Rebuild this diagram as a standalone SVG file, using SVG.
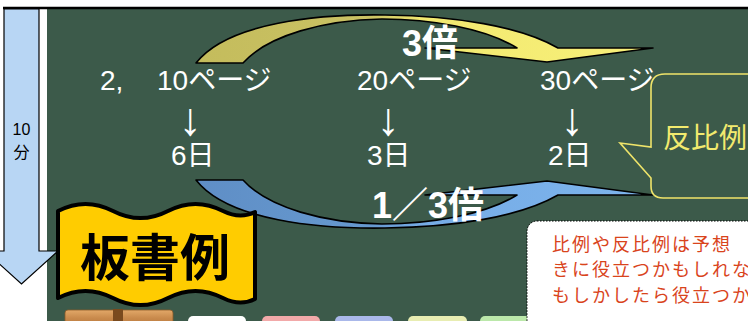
<svg xmlns="http://www.w3.org/2000/svg" width="748" height="321" viewBox="0 0 748 321">
<defs>
<linearGradient id="gy" gradientUnits="userSpaceOnUse" x1="196" y1="0" x2="653" y2="0">
<stop offset="0" stop-color="#C4BC5C"/><stop offset="0.38" stop-color="#CAC264"/><stop offset="0.5" stop-color="#F2E970"/><stop offset="1" stop-color="#F8F07A"/>
</linearGradient>
<linearGradient id="gb" gradientUnits="userSpaceOnUse" x1="196" y1="0" x2="653" y2="0">
<stop offset="0" stop-color="#5F8EC6"/><stop offset="0.38" stop-color="#6699CF"/><stop offset="0.5" stop-color="#76ACE6"/><stop offset="1" stop-color="#7DB4EC"/>
</linearGradient>
<linearGradient id="gw" x1="0" y1="0" x2="0" y2="1">
<stop offset="0" stop-color="#E2A868"/><stop offset="0.5" stop-color="#C98A4C"/><stop offset="1" stop-color="#B8783E"/>
</linearGradient>
<path id="carrow" d="M196,63 C228,22 320,14 385,15 C455,16 520,26 558,48 L653,48 L547,62 L425,48 L517,48 C485,28 430,19 382,19 C325,20 268,35 243,63 Z"/>
</defs>
<style>
.t{font-family:"Liberation Sans","Noto Sans CJK JP",sans-serif;fill:#FFFFFF;font-size:28px}
.d{font-family:"Liberation Sans","Noto Sans CJK JP",sans-serif;fill:#FFFFFF;font-size:46px}
.b{font-family:"Liberation Sans","Noto Sans CJK JP",sans-serif;fill:#FFFFFF;font-size:36px;font-weight:bold}
.r{font-family:"Noto Sans CJK JP",sans-serif;fill:#D9441C;font-size:18px;letter-spacing:2px}
.ar{stroke:#000;stroke-width:1.6;stroke-linejoin:round}
</style>
<rect width="748" height="321" fill="#FFFFFF"/>
<g id="board">
<rect x="47" y="9" width="701" height="312" fill="#3C5A4A"/>
<line x1="3" y1="8" x2="748" y2="8" stroke="#000" stroke-width="2.5"/>
</g>
<g id="time-arrow">
<polygon points="4,9 39,9 39,251 58,251 21.5,284 -15,251 4,251" fill="#B8D6F4" stroke="#000" stroke-width="1.2"/>
<text x="21.5" y="135" text-anchor="middle" font-family="Liberation Sans,Noto Sans CJK JP,sans-serif" font-size="16" fill="#000">10</text>
<text x="21.5" y="158" text-anchor="middle" font-family="Noto Sans CJK JP,sans-serif" font-size="16" fill="#000">分</text>
</g>
<g id="connectors">
<use href="#carrow" fill="url(#gy)" class="ar"/>
<use href="#carrow" fill="url(#gb)" class="ar" transform="matrix(1,0,0,-1,0,243)"/>
</g>
<g id="labels">
<text class="b" x="402" y="56">3倍</text>
<text class="b" x="372" y="218">1／3倍</text>
</g>
<g id="col1">
<text class="t" y="90"><tspan x="100">2,</tspan><tspan x="157">10ページ</tspan></text>
<text class="d" x="190" y="135" text-anchor="middle">↓</text>
<text class="t" x="171" y="165">6日</text>
</g>
<g id="col2">
<text class="t" x="357" y="90">20ページ</text>
<text class="d" x="388" y="135" text-anchor="middle">↓</text>
<text class="t" x="367" y="165">3日</text>
</g>
<g id="col3">
<text class="t" x="540" y="90">30ページ</text>
<text class="d" x="572" y="135" text-anchor="middle">↓</text>
<text class="t" x="548" y="165">2日</text>
</g>
<g id="bubble">
<path d="M760,74 H665 Q651,74 651,88 V147 L620,143 L651,178 V186 Q651,198 663,198 H760" fill="none" stroke="#EFE46A" stroke-width="1.6"/>
<text x="663" y="148" font-family="Noto Sans CJK JP,sans-serif" font-size="28" fill="#F2EA6E">反比例</text>
</g>
<g id="banner">
<path d="M58,211 C76,201.7 95,201.7 113,211 C131,220.3 150,220.3 168,211 C186,201.7 205,201.7 223,211 C235,217 245,217 255,212 L255,299 C245,304 235,304 223,298 C205,288.7 186,288.7 168,298 C150,307.3 131,307.3 113,298 C95,288.7 76,288.7 58,298 Z" fill="#FFCC00" stroke="#000" stroke-width="4" stroke-linejoin="round"/>
<text x="155" y="276" text-anchor="middle" font-family="Noto Sans CJK JP,sans-serif" font-size="50" font-weight="bold" fill="#000">板書例</text>
</g>
<g id="tray">
<rect x="65" y="310" width="108" height="16" rx="3" fill="url(#gw)" stroke="#8A5A2A" stroke-width="0.8"/>
<rect x="113" y="309" width="10" height="14" fill="#7A4A1E"/>
</g>
<g id="tabs">
<rect x="188" y="316" width="58" height="12" rx="5" fill="#FFFFFF"/>
<rect x="262" y="316" width="58" height="12" rx="5" fill="#F2A9A9"/>
<rect x="335" y="316" width="58" height="12" rx="5" fill="#AAB8EA"/>
<rect x="408" y="316" width="59" height="12" rx="5" fill="#E8EDB2"/>
<rect x="480" y="316" width="58" height="12" rx="5" fill="#BBE8AA"/>
</g>
<g id="note">
<rect x="527" y="221" width="240" height="120" rx="10" fill="#FFFFFF" stroke="#000" stroke-width="1" stroke-dasharray="1.5,1.5"/>
<text class="r" x="552" y="251">比例や反比例は予想</text>
<text class="r" x="552" y="276">きに役立つかもしれな</text>
<text class="r" x="552" y="302">もしかしたら役立つか</text>
</g>
</svg>
